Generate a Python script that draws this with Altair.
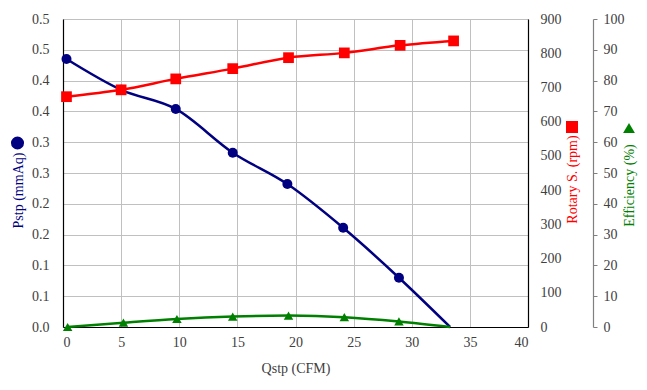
import altair as alt
import pandas as pd

# ---- data ----
q_pstp = [0.3, 5.0, 9.7, 14.6, 19.3, 24.1, 28.9, 33.3]
pstp = [0.435, 0.385, 0.354, 0.283, 0.232, 0.161, 0.080, 0.0]
pstp_marker = [True, True, True, True, True, True, True, False]

q_rpm = [0.3, 5.0, 9.7, 14.6, 19.4, 24.2, 29.0, 33.6]
rpm = [673, 693, 725, 755, 787, 801, 823, 836]
rpm_marker = [True] * 8

q_eff = [0.4, 5.2, 9.8, 14.6, 19.4, 24.2, 28.9, 33.3]
eff = [0.0, 1.4, 2.6, 3.4, 3.7, 3.2, 1.8, 0.0]
eff_marker = [True, True, True, True, True, True, True, False]

x_ticks = [0, 5, 10, 15, 20, 25, 30, 35, 40]
pstp_ticks = [0.0, 0.05, 0.1, 0.15, 0.2, 0.25, 0.3, 0.35, 0.4, 0.45, 0.5]
pstp_tick_labels = ["0.0", "0.1", "0.1", "0.2", "0.2", "0.3", "0.3", "0.4", "0.4", "0.5", "0.5"]
rpm_ticks = [0, 100, 200, 300, 400, 500, 600, 700, 800, 900]
eff_ticks = [0, 10, 20, 30, 40, 50, 60, 70, 80, 90, 100]

NAVY = "#000080"
RED = "#FF0000"
GREEN = "#008000"
LABEL = "#404040"
FONT = "Liberation Serif"

df_p = pd.DataFrame({"q": q_pstp, "v": pstp, "m": pstp_marker})
df_r = pd.DataFrame({"q": q_rpm, "v": rpm, "m": rpm_marker})
df_e = pd.DataFrame({"q": q_eff, "v": eff, "m": eff_marker})

label_array = "[" + ",".join('"%s"' % s for s in pstp_tick_labels) + "]"

x_enc = alt.X(
    "q:Q",
    scale=alt.Scale(domain=[0, 40], nice=False),
    axis=alt.Axis(
        values=x_ticks, title="Qstp (CFM)", grid=True, gridColor="#c0c0c0", gridWidth=1,
        ticks=False, domainColor="#000000", domainWidth=1.2,
        labelPadding=8, labelFont=FONT, labelFontSize=14, labelColor=LABEL,
        titleFont=FONT, titleFontSize=14, titleFontWeight="normal", titleColor=LABEL,
        titleY=41, titleBaseline="middle",
    ),
)

# Pstp
y_p = alt.Y(
    "v:Q",
    scale=alt.Scale(domain=[0, 0.5], nice=False, zero=True),
    axis=alt.Axis(
        values=pstp_ticks, labelExpr=label_array + "[round(datum.value*20)]",
        orient="left", grid=True, gridColor="#c0c0c0", gridWidth=1,
        ticks=False, domainColor="#000000", domainWidth=1.2,
        labelPadding=14, labelFont=FONT, labelFontSize=14, labelColor=LABEL,
        title="Pstp (mmAq)", titleFont=FONT, titleFontSize=14, titleFontWeight="normal",
        titleColor=NAVY, titleAngle=270, titleAlign="center", titleBaseline="middle",
        titleX=-44.5, titleY=171,
    ),
)
p_base = alt.Chart(df_p)
p_layer = alt.layer(
    p_base.mark_line(color=NAVY, strokeWidth=2.5, interpolate="monotone").encode(x=x_enc, y=y_p),
    p_base.mark_point(shape="circle", filled=True, opacity=1, color=NAVY, size=100)
    .encode(x=x_enc, y=y_p)
    .transform_filter("datum.m"),
)

# Rotary speed
y_r = alt.Y(
    "v:Q",
    scale=alt.Scale(domain=[0, 900], nice=False, zero=True),
    axis=alt.Axis(
        values=rpm_ticks, orient="right", grid=False, ticks=False,
        domainColor="#000000", domainWidth=1.2,
        labelPadding=12, labelFont=FONT, labelFontSize=14, labelColor=LABEL,
        title="Rotary S. (rpm)", titleFont=FONT, titleFontSize=14, titleFontWeight="normal",
        titleColor=RED, titleAngle=270, titleAlign="center", titleBaseline="middle",
        titleX=44, titleY=160,
    ),
)
r_base = alt.Chart(df_r)
r_layer = alt.layer(
    r_base.mark_line(color=RED, strokeWidth=2.5, interpolate="monotone").encode(x=x_enc, y=y_r),
    r_base.mark_point(shape="square", filled=True, opacity=1, color=RED, size=115)
    .encode(x=x_enc, y=y_r)
    .transform_filter("datum.m"),
)

# Efficiency
y_e = alt.Y(
    "v:Q",
    scale=alt.Scale(domain=[0, 100], nice=False, zero=True),
    axis=alt.Axis(
        values=eff_ticks, orient="right", offset=65, grid=False, ticks=True, tickSize=4,
        tickColor="#808080", domainColor="#808080", domainWidth=1.2,
        labelPadding=6, labelFont=FONT, labelFontSize=14, labelColor=LABEL,
        title="Efficiency (%)", titleFont=FONT, titleFontSize=14, titleFontWeight="normal",
        titleColor=GREEN, titleAngle=270, titleAlign="center", titleBaseline="middle",
        titleX=36, titleY=166,
    ),
)
e_base = alt.Chart(df_e)
e_layer = alt.layer(
    e_base.mark_line(color=GREEN, strokeWidth=2.5, interpolate="monotone").encode(x=x_enc, y=y_e),
    e_base.mark_point(shape="triangle-up", filled=True, opacity=1, color=GREEN, size=90)
    .encode(x=x_enc, y=y_e)
    .transform_filter("datum.m"),
)

# legend glyphs next to the axis titles
one = pd.DataFrame({"a": [0]})
sym_p = alt.Chart(one).mark_point(shape="circle", filled=True, opacity=1, color=NAVY, size=170).encode(
    x=alt.value(-45.5), y=alt.value(124))
sym_r = alt.Chart(one).mark_point(shape="square", filled=True, opacity=1, color=RED, size=144).encode(
    x=alt.value(509), y=alt.value(108))
sym_e = alt.Chart(one).mark_point(shape="triangle-up", filled=True, opacity=1, color=GREEN, size=140).encode(
    x=alt.value(566), y=alt.value(109))

chart = (
    alt.layer(p_layer, r_layer, e_layer, sym_p, sym_r, sym_e)
    .resolve_scale(y="independent")
    .properties(
        width=465, height=308,
        autosize=alt.AutoSizeParams(type="none"),
        padding={"left": 55, "top": 11, "right": 111, "bottom": 55},
        background="white",
    )
    .configure_view(stroke=None)
    .configure(font=FONT)
)

chart.save("out.html", embed_options={"renderer": "svg", "actions": False})
